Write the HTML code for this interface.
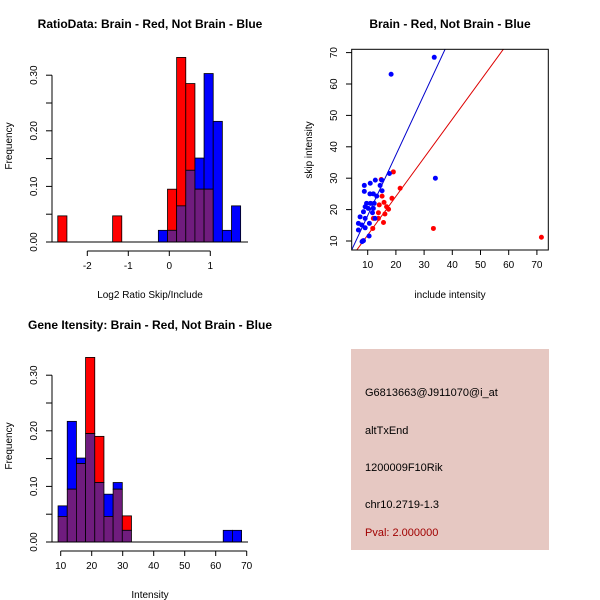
<!DOCTYPE html>
<html><head><meta charset="utf-8"><style>
body{margin:0;background:#fff}
svg{display:block;font-family:"Liberation Sans",sans-serif}
</style></head><body>
<svg id="s" width="600" height="600" xmlns="http://www.w3.org/2000/svg">
<g font-weight="bold" font-size="12" text-anchor="middle">
<text x="150" y="28">RatioData: Brain - Red, Not Brain - Blue</text>
<text x="450" y="28">Brain - Red, Not Brain - Blue</text>
<text x="150" y="329">Gene Itensity: Brain - Red, Not Brain - Blue</text>
</g>
<g font-size="10" text-anchor="middle">
<text x="150" y="298">Log2 Ratio Skip/Include</text>
<text x="150" y="598">Intensity</text>
<text x="450" y="298">include intensity</text>
<text transform="translate(12,146) rotate(-90)">Frequency</text>
<text transform="translate(12,446) rotate(-90)">Frequency</text>
<text transform="translate(312,150) rotate(-90)">skip intensity</text>
</g>
<g id="g1"></g>
<g id="g2"></g>
<g id="g3"></g>
<g>
<rect x="351" y="349" width="198" height="201" fill="#e6c8c2"/>
<g font-size="11">
<text x="365" y="396">G6813663@J911070@i_at</text>
<text x="365" y="434">altTxEnd</text>
<text x="365" y="471">1200009F10Rik</text>
<text x="365" y="508">chr10.2719-1.3</text>
<text x="365" y="536" fill="#a00000">Pval: 2.000000</text>
</g></g>
</svg>
<script>
// Ratio histogram data
const ratioStart=-2.72, ratioBin=0.223;
const ratioRed=[0.047,0,0,0,0,0,0.047,0,0,0,0,0,0.095,0.332,0.285,0.095,0.095,0,0,0];
const ratioBlue=[0,0,0,0,0,0,0,0,0,0,0,0.021,0.021,0.065,0.129,0.151,0.303,0.217,0.021,0.065];
const ratioXTicks=[-2,-1,0,1];
const freqTicks=[0,0.1,0.2,0.3];
// Intensity histogram data
const intStart=9.15, intBin=2.96;
const intRed=[0.046,0.095,0.141,0.332,0.19,0.046,0.095,0.047,0,0,0,0,0,0,0,0,0,0,0,0];
const intBlue=[0.065,0.217,0.151,0.195,0.107,0.086,0.107,0.021,0,0,0,0,0,0,0,0,0,0,0.021,0.021];
const intXTicks=[10,20,30,40,50,60,70];
// Scatter data
const blueX=[33.6,18.3,34.0,17.7,8.8,8.8,10.9,12.7,14.4,15.1,10.8,12.0,13.2,9.6,11.0,12.3,9.1,10.2,12.0,8.5,11.7,7.3,9.1,12.6,6.7,7.9,10.6,6.7,9.1,10.5,8.5,8.0,15.0];
const blueY=[68.5,63.1,30.0,31.5,27.7,25.8,28.4,29.4,27.7,26.0,25.0,25.0,24.3,22.0,22.0,22.0,20.9,20.4,20.4,19.3,19.0,17.7,17.2,17.2,15.6,15.1,15.6,13.5,14.2,11.6,10.1,9.8,29.4];
const redX=[71.6,33.3,19.1,21.5,14.8,15.1,18.6,15.8,14.1,16.7,17.4,13.8,16.1,13.8,15.6,11.8,12.0,8.2];
const redY=[11.2,14.0,32.0,26.8,29.6,24.3,23.6,22.3,21.5,20.9,20.1,19.0,18.6,17.2,15.9,14.0,17.2,10.0];
const blueLine=[-1.2,1.93], redLine=[-0.4,1.23];
const scXTicks=[10,20,30,40,50,60,70], scYTicks=[10,20,30,40,50,60,70];

const NS="http://www.w3.org/2000/svg";
function mk(p,t,a){const e=document.createElementNS(NS,t);for(const k in a)e.setAttribute(k,a[k]);p.appendChild(e);return e;}
const PURPLE="#701c7e";

function hist(g,x0,bw,red,blue,xs,xTicks,base,xl,xr){
  const ys=v=>base-v*556;
  for(let i=0;i<red.length;i++){
    const r=red[i],b=blue[i]; const L=xs(x0+i*bw), R=xs(x0+(i+1)*bw);
    const lo=Math.min(r,b), hi=Math.max(r,b);
    if(hi>0){
      const c=r>b?"#ff0000":"#0000ff";
      if(hi>lo){const e=mk(g,"rect",{x:L,y:ys(hi),width:R-L,height:ys(lo)-ys(hi),fill:c,stroke:"#000","stroke-width":0.8});
      
      }
      if(lo>0){const e=mk(g,"rect",{x:L,y:ys(lo),width:R-L,height:base-ys(lo),fill:PURPLE,stroke:"#000","stroke-width":0.8});
      
      }
    }
  }
  mk(g,"line",{x1:xl,x2:xr,y1:base,y2:base,stroke:"#000"});
  mk(g,"line",{x1:52,x2:52,y1:ys(0),y2:ys(0.3),stroke:"#000"});
  for(let v=0;v<=0.3001;v+=0.05) mk(g,"line",{x1:46,x2:52,y1:ys(v),y2:ys(v),stroke:"#000"});
  freqTicks.forEach(v=>{const t=mk(g,"text",{transform:`translate(37,${ys(v)}) rotate(-90)`,"font-size":10,"text-anchor":"middle"});t.textContent=v.toFixed(2);
    });
  const ay=base+9;
  mk(g,"line",{x1:xs(xTicks[0]),x2:xs(xTicks[xTicks.length-1]),y1:ay,y2:ay,stroke:"#000"});
  xTicks.forEach(v=>{mk(g,"line",{x1:xs(v),x2:xs(v),y1:ay,y2:ay+5,stroke:"#000"});
    const t=mk(g,"text",{x:xs(v),y:ay+18,"font-size":10,"text-anchor":"middle"});t.textContent=v;
    });
}
hist(document.getElementById("g1"),ratioStart,ratioBin,ratioRed,ratioBlue,v=>169.3+v*41,ratioXTicks,242,52,248);
hist(document.getElementById("g2"),intStart,intBin,intRed,intBlue,v=>60.7+(v-10)*3.1,intXTicks,542,52,248);

// scatter
const g3=document.getElementById("g3");
const sx=v=>367.7+(v-10)*2.82, sy=v=>241-(v-10)*3.14;
const clip=mk(g3,"clipPath",{id:"cp"}); mk(clip,"rect",{x:352,y:49,width:196,height:201});
function line(p,c){const x1=4,x2=80;const e=mk(g3,"line",{x1:sx(x1),y1:sy(p[0]+p[1]*x1),x2:sx(x2),y2:sy(p[0]+p[1]*x2),stroke:c,"stroke-width":1,"clip-path":"url(#cp)"});
  }
line(redLine,"#dd0000");line(blueLine,"#0000cc");
redX.forEach((v,i)=>{const e=mk(g3,"circle",{cx:sx(v),cy:sy(redY[i]),r:2.5,fill:"#ff0000"});
  });
blueX.forEach((v,i)=>{const e=mk(g3,"circle",{cx:sx(v),cy:sy(blueY[i]),r:2.5,fill:"#0000ff"});
  });
mk(g3,"rect",{x:351.7,y:49.3,width:196.6,height:200.7,fill:"none",stroke:"#000"});
scXTicks.forEach(v=>{mk(g3,"line",{x1:sx(v),x2:sx(v),y1:250,y2:255,stroke:"#000"});
  const t=mk(g3,"text",{x:sx(v),y:268,"font-size":10,"text-anchor":"middle"});t.textContent=v;
  });
scYTicks.forEach(v=>{mk(g3,"line",{x1:346,x2:351.7,y1:sy(v),y2:sy(v),stroke:"#000"});
  const t=mk(g3,"text",{transform:`translate(337,${sy(v)}) rotate(-90)`,"font-size":10,"text-anchor":"middle"});t.textContent=v;
  });
</script>
</body></html>
